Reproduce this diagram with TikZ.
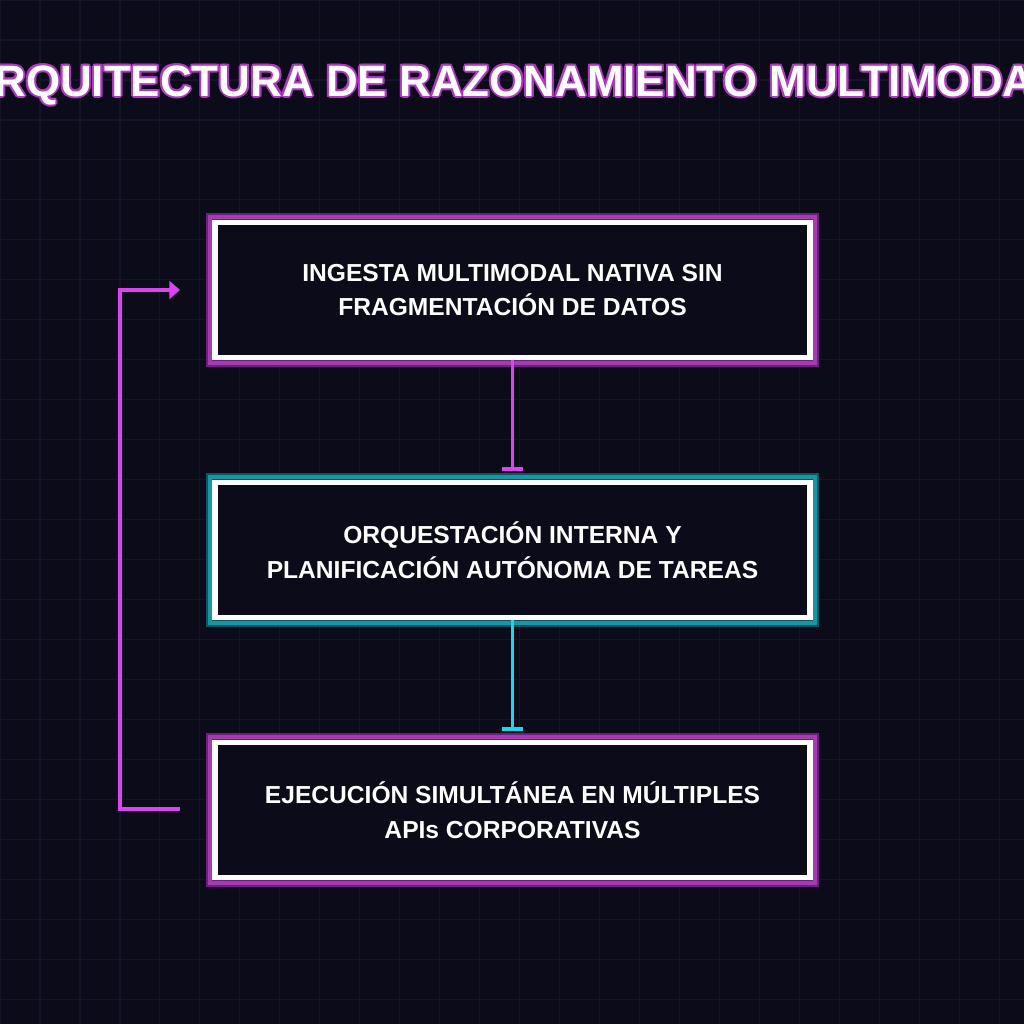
\documentclass[tikz,border=0pt]{standalone}
\usepackage{fontspec}
\setmainfont{Liberation Sans}
\usetikzlibrary{arrows.meta,positioning}
\definecolor{bgdark}{HTML}{0B0B1A}
\definecolor{gridline}{HTML}{15152A}
\definecolor{neonpink}{HTML}{D946EF}
\definecolor{neonpinkdim}{HTML}{6A2080}
\definecolor{neonpinkmid}{HTML}{A43CB0}
\definecolor{neoncyan}{HTML}{22D3EE}
\definecolor{neoncyandim}{HTML}{0E5560}
\definecolor{neoncyanmid}{HTML}{1A95A5}
\tikzset{
  stagebox/.style={draw=white, line width=3.2pt, fill=bgdark, minimum width=11.9cm, minimum height=2.7cm,
    text=white, font=\bfseries\fontsize{14}{19.8}\selectfont, align=center},
  pinkglow/.style={double=neonpinkmid, draw=neonpinkdim, double distance=2pt, line width=1.2pt},
  cyanglow/.style={double=neoncyanmid, draw=neoncyandim, double distance=2pt, line width=1.2pt},
  flowline/.style={line width=2pt},
}
\begin{document}
\begin{tikzpicture}[x=0.02cm, y=-0.02cm]
    \fill[bgdark] (0,0) rectangle (1024,1024);
    \useasboundingbox (0,0) rectangle (1024,1024);
    \clip (0,0) rectangle (1024,1024);
    \draw[gridline, line width=0.6pt, step=0.8cm] (0,0) grid (1024,1024);
    % title with glow
    \foreach \dx/\dy in {-2/0,2/0,0/-2,0/2,-1.5/-1.5,1.5/1.5,-1.5/1.5,1.5/-1.5}
        \node[text=neonpink!80!black, font=\bfseries\fontsize{25}{30}\selectfont] at (512+\dx,85+\dy) {ARQUITECTURA DE RAZONAMIENTO MULTIMODAL};
    \node[text=white, font=\bfseries\fontsize{25}{30}\selectfont] (title) at (512,85) {ARQUITECTURA DE RAZONAMIENTO MULTIMODAL};
    % glow frames
    \draw[black, line width=1.2pt] (207,214) rectangle (818,366);
    \draw[pinkglow] (210,217) rectangle (815,363);
    \draw[black, line width=1.2pt] (207,474) rectangle (818,626);
    \draw[cyanglow] (210,477) rectangle (815,623);
    \draw[black, line width=1.2pt] (207,734) rectangle (818,886);
    \draw[pinkglow] (210,737) rectangle (815,883);
    % stages
    \node[stagebox] (ingest) at (512.5,290) {INGESTA MULTIMODAL NATIVA SIN\\FRAGMENTACIÓN DE DATOS};
    \node[stagebox] (orch) at (512.5,550) {ORQUESTACIÓN INTERNA Y\\PLANIFICACIÓN AUTÓNOMA DE TAREAS};
    \node[stagebox] (exec) at (512.5,810) {EJECUCIÓN SIMULTÁNEA EN MÚLTIPLES\\APIs CORPORATIVAS};
    % connectors
    \coordinate (barA) at (512.5,471);
    \coordinate (barB) at (512.5,731);
    \coordinate (loopout) at (180,809);
    \coordinate (loopin) at (180,290);
    \draw[flowline, neonpink, -{Bar[width=12pt]}] (ingest.south) -- (barA);
    \draw[flowline, neoncyan, -{Bar[width=12pt]}] (orch.south) -- (barB);
    \draw[flowline, neonpink, -{Triangle[width=10pt,length=6pt]}] (loopout) -- (120,809) -- (120,290) -- (loopin);
\end{tikzpicture}
\end{document}
